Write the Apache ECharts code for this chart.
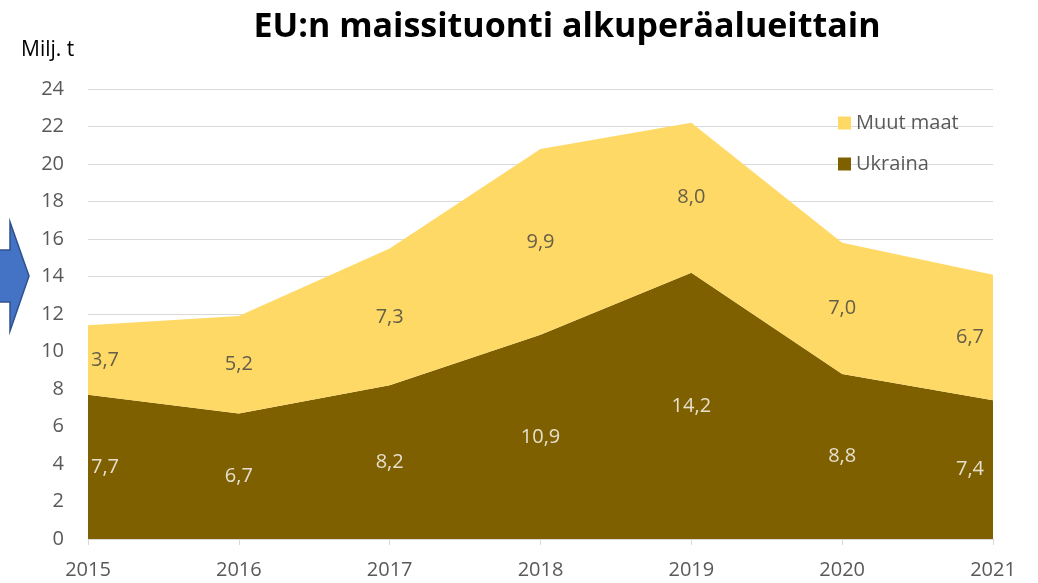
<!DOCTYPE html>
<html><head><meta charset="utf-8">
<script src="https://cdn.jsdelivr.net/npm/echarts@6/dist/echarts.min.js"></script>
<style>html,body{margin:0;padding:0;background:#fff}#c{width:1038px;height:583px}</style>
</head><body><div id="c"></div>
<script>
const years = ['2015','2016','2017','2018','2019','2020','2021'];
const ukraina = [7.7, 6.7, 8.2, 10.9, 14.2, 8.8, 7.4];
const muut = [3.7, 5.2, 7.3, 9.9, 8.0, 7.0, 6.7];
const yTicks = [0, 24, 2];

const FONT = '"Open Sans", "Liberation Sans", sans-serif';
const fmt = v => v.toFixed(1).replace('.', ',');
const xOff = i => i === 0 ? [17, 0] : (i === years.length - 1 ? [-23, 0] : [0, 0]);

const ukrLabelPts = ukraina.map((v, i) => ({
  value: [i, v / 2], raw: v, label: {offset: xOff(i)}
}));
const muutLabelPts = muut.map((v, i) => ({
  value: [i, ukraina[i] + v / 2], raw: v, label: {offset: xOff(i)}
}));

const chart = echarts.init(document.getElementById('c'));
chart.setOption({
  animation: false,
  title: {
    text: 'EU:n maissituonti alkuperäalueittain',
    left: 562, top: 5, textAlign: 'center',
    textStyle: {fontFamily: FONT, fontSize: 34, fontWeight: 'bold', color: '#000'}
  },
  graphic: [
    {type: 'text', left: 21, top: 40, style: {text: 'Milj. t', fontFamily: FONT, fontSize: 21, fill: '#000'}},
    {type: 'polygon', shape: {points: [[-5, 250], [10, 250], [10, 222], [29, 276], [10, 331], [10, 302], [-5, 302]]},
     style: {fill: '#4472C4', stroke: '#2F528F', lineWidth: 1.5}}
  ],
  legend: {
    orient: 'vertical', left: 833, top: 108, itemGap: 21,
    itemWidth: 13, itemHeight: 13, icon: 'rect',
    data: ['Muut maat', 'Ukraina'],
    textStyle: {fontFamily: FONT, fontSize: 20, color: '#595959'}
  },
  grid: {left: 88, right: 45, top: 89, bottom: 44},
  xAxis: {
    type: 'category', data: years, boundaryGap: false,
    axisLine: {lineStyle: {color: '#d9d9d9', width: 1}},
    axisTick: {show: true, length: 6, lineStyle: {color: '#d9d9d9'}},
    axisLabel: {fontFamily: FONT, fontSize: 20, color: '#595959', margin: 21}
  },
  yAxis: {
    type: 'value', min: yTicks[0], max: yTicks[1], interval: yTicks[2],
    axisLine: {show: false}, axisTick: {show: false},
    splitLine: {lineStyle: {color: '#d9d9d9', width: 1}},
    axisLabel: {fontFamily: FONT, fontSize: 20, color: '#595959', margin: 24}
  },
  series: [
    {name: 'Ukraina', type: 'line', stack: 'a', data: ukraina, symbol: 'none',
     lineStyle: {width: 0}, areaStyle: {color: '#7F6000', opacity: 1}, itemStyle: {color: '#7F6000'}},
    {name: 'Muut maat', type: 'line', stack: 'a', data: muut, symbol: 'none',
     lineStyle: {width: 0}, areaStyle: {color: '#FFD966', opacity: 1}, itemStyle: {color: '#FFD966'}},
    {type: 'scatter', data: ukrLabelPts, symbolSize: 1, silent: true, z: 5,
     itemStyle: {color: 'rgba(0,0,0,0)'},
     label: {show: true, position: 'inside', formatter: p => fmt(p.data.raw),
       fontFamily: FONT, fontSize: 20, color: '#ffffff', textBorderWidth: 0, textShadowBlur: 0}},
    {type: 'scatter', data: muutLabelPts, symbolSize: 1, silent: true, z: 5,
     itemStyle: {color: 'rgba(0,0,0,0)'},
     label: {show: true, position: 'inside', formatter: p => fmt(p.data.raw),
       fontFamily: FONT, fontSize: 20, color: '#404040', textBorderWidth: 0, textShadowBlur: 0}}
  ]
});
</script></body></html>
